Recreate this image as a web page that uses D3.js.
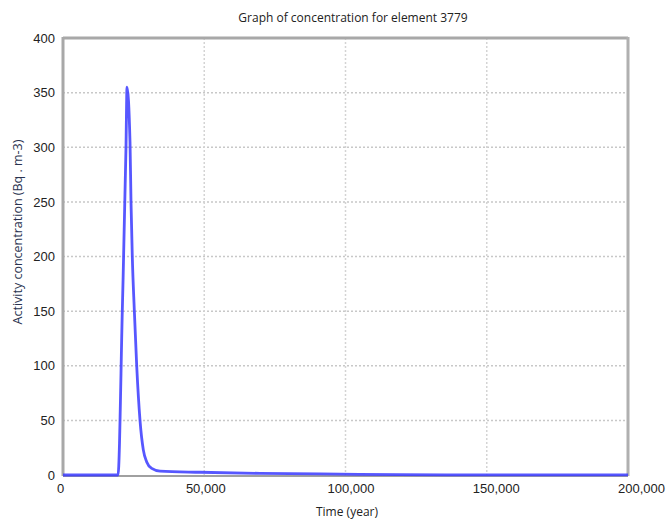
<!DOCTYPE html>
<html>
<head>
<meta charset="utf-8">
<script src="https://cdn.jsdelivr.net/npm/d3@7"></script>
<style>
  html, body { margin: 0; padding: 0; background: #fff; }
  svg { display: block; font-family: "Open Sans", "Noto Sans", sans-serif; }
</style>
</head>
<body>
<svg id="chart" width="671" height="525"></svg>
<script>
// Activity concentration over time for element 3779
const timeYears = [0, 19000, 19470, 20990, 22300, 22660, 23720, 24070, 24530, 25240, 26090, 27260, 28430, 29630, 31400, 34340, 48500, 69700, 98000, 119000, 150000, 200000];
const concentration = [0, 0, 0, 150, 300, 355, 305, 250, 200, 151, 100, 50, 23, 12, 6, 3.5, 2.5, 1.5, 0.8, 0.3, 0.15, 0.1];
const xTicks = [0, 50000, 100000, 150000, 200000];
const yTicks = [0, 50, 100, 150, 200, 250, 300, 350, 400];
const titleText = "Graph of concentration for element 3779";
const xLabel = "Time (year)";
const yLabel = "Activity concentration (Bq . m-3)";

const svg = d3.select("#chart");
const m = { left: 63, right: 628, top: 38, bottom: 475 };

const x = d3.scaleLinear().domain([0, 200000]).range([m.left, m.right]);
const y = d3.scaleLinear().domain([0, 400]).range([m.bottom, m.top]);
// tick labels of the time axis are spread slightly wider than the plot area
const xLabelPos = d3.scaleLinear().domain([0, 200000]).range([60, 641]);

// dotted grid
svg.append("g").selectAll("line.h")
  .data(yTicks.filter(d => d > 0 && d < 400))
  .join("line")
  .attr("x1", m.left).attr("x2", m.right)
  .attr("y1", d => y(d)).attr("y2", d => y(d))
  .attr("stroke", "#c8c8c8").attr("stroke-width", 1.5)
  .attr("stroke-dasharray", "2,2");
svg.append("g").selectAll("line.v")
  .data(xTicks.filter(d => d > 0 && d < 200000))
  .join("line")
  .attr("x1", d => x(d)).attr("x2", d => x(d))
  .attr("y1", m.top).attr("y2", m.bottom)
  .attr("stroke", "#d4d4d4").attr("stroke-width", 1.5)
  .attr("stroke-dasharray", "2,2");

// frame
svg.append("line").attr("x1", m.left).attr("x2", m.right).attr("y1", m.top).attr("y2", m.top)
  .attr("stroke", "#a8a8a8").attr("stroke-width", 3);
svg.append("line").attr("x1", m.left).attr("x2", m.left).attr("y1", m.top - 1).attr("y2", m.bottom + 1)
  .attr("stroke", "#a8a8a8").attr("stroke-width", 3);
svg.append("line").attr("x1", m.right).attr("x2", m.right).attr("y1", m.top - 1).attr("y2", m.bottom + 1)
  .attr("stroke", "#b0b0b0").attr("stroke-width", 3);
svg.append("line").attr("x1", m.left).attr("x2", m.right).attr("y1", m.bottom + 1).attr("y2", m.bottom + 1)
  .attr("stroke", "#a0a0a0").attr("stroke-width", 2);

// axes (labels only; frame drawn above)
const yAxis = d3.axisLeft(y).tickValues(yTicks).tickSize(0).tickPadding(8).tickFormat(d3.format("d"));
const gy = svg.append("g").attr("transform", `translate(${m.left},0)`).call(yAxis);
gy.select(".domain").remove();
gy.selectAll("text").attr("font-size", 13).attr("fill", "#222");

const xAxis = d3.axisBottom(xLabelPos).tickValues(xTicks).tickSize(0).tickPadding(9).tickFormat(d3.format(","));
const gx = svg.append("g").attr("transform", `translate(0,${m.bottom})`).call(xAxis);
gx.select(".domain").remove();
gx.selectAll("text").attr("font-size", 13).attr("fill", "#222");

// concentration curve
const line = d3.line()
  .x((d, i) => x(timeYears[i]))
  .y(d => y(d))
  .curve(d3.curveMonotoneX);
svg.append("path")
  .datum(concentration)
  .attr("d", line)
  .attr("fill", "none")
  .attr("stroke", "#3a3aff")
  .attr("stroke-opacity", 0.85)
  .attr("stroke-width", 2.8)
  .attr("stroke-linejoin", "round");

// titles
svg.append("text").attr("x", 353).attr("y", 22).attr("text-anchor", "middle")
  .attr("font-size", 12).attr("fill", "#222").text(titleText);
svg.append("text").attr("x", 347).attr("y", 516).attr("text-anchor", "middle")
  .attr("font-size", 12).attr("fill", "#222").text(xLabel);
svg.append("text")
  .attr("transform", "translate(22,232) rotate(-90)")
  .attr("text-anchor", "middle")
  .attr("font-size", 12.5).attr("fill", "#2a3350").text(yLabel);
</script>
</body>
</html>
